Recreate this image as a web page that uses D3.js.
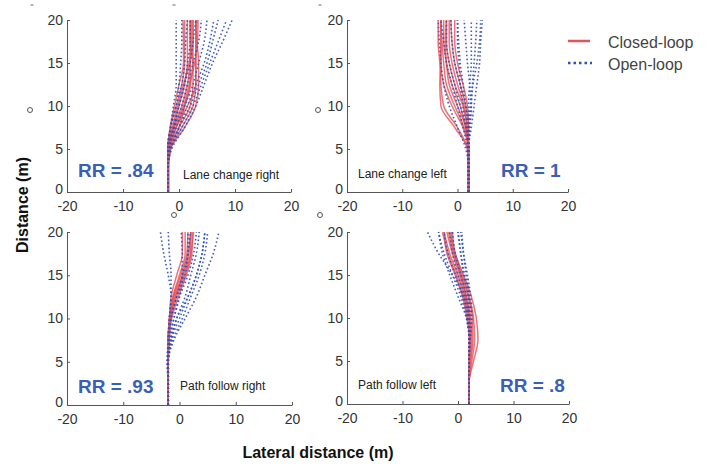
<!DOCTYPE html>
<html><head><meta charset="utf-8">
<script src="https://cdn.jsdelivr.net/npm/d3@7"></script>
<style>body{margin:0;background:#fff}svg{display:block}text{font-family:"Liberation Sans",Arial,sans-serif}</style>
</head><body><svg id="c" width="709" height="466"></svg>
<script>
// distance samples (m) for every trajectory
const dist = [0, 2.5, 5, 7.5, 10, 12.5, 15, 17.5, 20];
const xTicks = [-20, -10, 0, 10, 20];
const yTicks = [0, 5, 10, 15, 20];
const panelTitles = ["Lane change right", "Lane change left", "Path follow right", "Path follow left"];
const rrLabels = ["RR = .84", "RR = 1", "RR = .93", "RR = .8"];
const seriesNames = ["Closed-loop", "Open-loop"];

// lateral positions (m) at each distance sample
const lcrClosed = [
 [-2,-2,-2,-1.5,-0.5,0.5,1,1,1],
 [-2,-2,-2,-1,0,1,1.5,1.5,1.5],
 [-2,-2,-1.8,-0.5,1,2,2,2,2],
 [-2,-2,-1.8,0,2,2.5,2.5,2.5,2.5],
 [-2,-2,-1.5,0.5,2.5,3,3,3,3],
 [-2,-2,-1.5,1,3,3.5,3.5,3.2,3],
 [-2,-2,-1.9,-1,0.5,1.5,2,2.5,2.5],
 [-2,-2,-1.7,-0.5,1.5,3,3,3,3.2],
 [-1.8,-1.8,-1.6,0,1,2,2.5,2,2],
 [-2,-2,-2,-1.2,-0.2,0.8,1.8,2.2,2.2],
 [-2,-2,-1.9,-0.8,0.8,1.8,2.8,3.3,3.4],
 [-2,-2,-2,-1.6,-0.8,0,0.8,0.8,0.7]
];
const lcrOpen = [
 [-2,-2,-2,-1.5,-1,-0.5,-0.5,-0.5,-0.5],
 [-2,-2,-2,-1.5,-0.5,0,0.3,0.5,0.5],
 [-2,-2,-1.8,-1,0,1,2,2.5,3],
 [-2,-2,-1.8,-0.5,1,2.5,3.5,4.5,5],
 [-2,-2,-1.5,0,1.5,3,4.5,5.5,6.2],
 [-2,-2,-1.5,0,2,3.5,5,6,7],
 [-2,-2,-1.3,1,3,4.5,6,7.8,9.5],
 [-2,-2,-1.5,0.5,2.5,4,5.5,7,8.5],
 [-2,-2,-2,-1,0,1,1.5,2,2],
 [-2,-2,-1.8,-0.8,0.5,1.5,2.5,3.5,4],
 [-2,-2,-2,-1.5,-0.5,0.5,1,1.2,1.5]
];
const lclClosed = [
 [2,2,2,1.5,0,-1.5,-2,-2.5,-2.5],
 [2,2,2,1,-1,-2.5,-3,-3,-3],
 [2,2,1.8,0,-2.5,-3,-3.2,-3.5,-3.5],
 [2,2,1.8,-0.5,-3,-3.2,-3,-3,-3],
 [2,2,2,1.8,1,-0.5,-1.5,-2,-2],
 [2,2,2,2,1.5,0.5,-0.5,-1,-1.2],
 [2,2,2,1.5,0.5,-1,-2,-2.2,-2],
 [2,2,2,1.7,1.2,0,-1,-1.5,-1.5],
 [2,2,2,2,1.8,1,0,-0.5,-0.5],
 [2,2,1.9,1.2,-0.5,-2,-2.5,-2.8,-3]
];
const lclOpen = [
 [2,2,2,2.2,2.5,2.7,3,3.3,3.5],
 [2,2,2,2.5,3,3.5,4,4.2,4.5],
 [2,2,2,2,2,2.2,2.5,2.5,2.5],
 [2,2,2,1.5,1,0.5,0.3,0,0],
 [2,2,1.8,1,0,-1,-2,-2.5,-3],
 [2,2,1.5,0,-1.5,-2.5,-3,-3.3,-3.5],
 [2,2,2,1.8,1.5,0.5,-0.5,-1,-1.2],
 [2,2,2,1.8,1.5,1,0.5,0.2,0],
 [2,2,2,2.2,2.5,2.2,1.8,1.5,1.2],
 [2,2,2,1.5,0.5,-0.5,-1.5,-2,-2],
 [2,2,2,2,2.3,2.8,3.5,4,4.2]
];
const pfrClosed = [
 [-2,-2,-2,-2,-1.8,-1.2,0,1,1],
 [-2,-2,-2,-2,-1.7,-1,0.5,1.5,2],
 [-2,-2,-2,-2,-1.6,-0.8,0.8,2,2.5],
 [-2,-2,-2,-1.9,-1.5,-0.5,1,2,2],
 [-2,-2,-2,-2,-1.8,-1.5,-0.5,0.5,0.5],
 [-2,-2,-2,-1.8,-1.4,-0.2,1.2,2.2,2.3],
 [-2,-2,-2,-2,-1.7,-1.1,0.2,1.3,1.5],
 [-2,-2,-2,-1.9,-1.6,-0.7,0.6,1.7,2]
];
const pfrOpen = [
 [-2,-2,-2,-2,-1.8,-1.5,-2,-2.8,-3.4],
 [-2,-2,-2,-2,-1.8,-1.5,-1.5,-1.8,-2],
 [-2,-2,-2,-1.8,-1,0,0.5,0.5,0.3],
 [-2,-2,-2,-1.5,-0.5,1,2,3,3.5],
 [-2,-2,-2,-1.5,0,1.5,3,4,4.5],
 [-2,-2,-2,-1.2,0.5,2,3.5,4.5,5],
 [-2,-2,-2,-1,1,3,4.5,6,7],
 [-2,-2,-2.2,-1.5,-0.5,1.5,3,4,4.5],
 [-2,-2,-2,-1.8,-1.5,-0.5,1,1.5,2],
 [-2,-2,-2.2,-2,-1.5,-0.5,0.5,1.5,1.5],
 [-2,-2,-2,-1.6,-1,0,1.5,2.5,3]
];
const pflClosed = [
 [2,2,2,2.2,2,1.2,0,-1.5,-2.5],
 [2,2,2.2,2.5,2.3,1.5,0.3,-1,-2],
 [2,2,2.5,3,2.8,2,0.8,-0.5,-1.5],
 [2,2,2.8,3.6,3.3,2.4,1,-0.5,-1],
 [2,2,2,2,1.8,1,-0.3,-1.8,-2.8],
 [2,2,2.1,2.3,2.1,1.4,0.5,-0.8,-1.7],
 [2,2,2.3,2.7,2.6,1.8,0.6,-0.7,-1.2],
 [2,2,2,2.1,1.6,0.8,-0.5,-2,-2.5]
];
const pflOpen = [
 [2,2,2,2,2,2,1.5,1,0.7],
 [2,2,2,2,2,1.8,1,0.5,0],
 [2,2,2,2,1.8,1.2,0,-1,-1.5],
 [2,2,2,2,1.5,0.5,-1,-2.5,-3.5],
 [2,2,2,2,1.7,0.8,-0.5,-1.8,-2.5],
 [2,2,2,2,1.8,1,-1,-3.5,-5.5],
 [2,2,2,2.2,2.3,2,1.2,0.5,0],
 [2,2,2,2.1,2,1.5,0.5,-0.5,-1],
 [2,2,2,2,1.5,0,-1.5,-2.8,-3.5],
 [2,2,2,2.2,2.5,2.3,1.7,1,0.5]
];

const closedSets = [lcrClosed, lclClosed, pfrClosed, pflClosed];
const openSets = [lcrOpen, lclOpen, pfrOpen, pflOpen];

const RED = "#e4525a", BLUE = "#2f4fba", TXT = "#333", RRC = "#3a5fb8";
const svg = d3.select("#c");

const boxes = [
  {x0: 67, x1: 291, y0: 192, y1: 20, title: [183, 179], rr: [78, 177]},
  {x0: 347, x1: 568, y0: 192, y1: 20, title: [358, 178], rr: [501, 177]},
  {x0: 67, x1: 292, y0: 405, y1: 232, title: [180, 390], rr: [78, 393]},
  {x0: 347, x1: 569, y0: 404, y1: 232, title: [358, 389], rr: [500, 392]}
];

boxes.forEach((b, i) => {
  const x = d3.scaleLinear().domain([-20, 20]).range([b.x0, b.x1]);
  const y = d3.scaleLinear().domain([0, 20]).range([b.y0, b.y1]);
  const g = svg.append("g");
  const line = d3.line().x(d => x(d[0])).y(d => y(d[1])).curve(d3.curveMonotoneY);

  g.append("g").selectAll("path").data(closedSets[i]).join("path")
    .attr("d", s => line(s.map((v, k) => [v, dist[k]])))
    .attr("fill", "none").attr("stroke", RED).attr("stroke-width", 1.5).attr("opacity", 0.8);
  g.append("g").selectAll("path").data(openSets[i]).join("path")
    .attr("d", s => line(s.map((v, k) => [v, dist[k]])))
    .attr("fill", "none").attr("stroke", BLUE).attr("stroke-width", 1.6)
    .attr("stroke-dasharray", "1.6,2.4").attr("opacity", 0.9);

  const xa = g.append("g").attr("transform", `translate(0,${b.y0})`)
    .call(d3.axisBottom(x).tickValues(xTicks).tickFormat(d => String(d)).tickSize(-3).tickPadding(6).tickSizeOuter(0));
  const ya = g.append("g").attr("transform", `translate(${b.x0},0)`)
    .call(d3.axisLeft(y).tickValues(yTicks).tickFormat(d => String(d)).tickSize(-3).tickPadding(4).tickSizeOuter(0));
  [xa, ya].forEach(a => {
    a.select(".domain").attr("stroke", "#555");
    a.selectAll(".tick line").attr("stroke", "#555");
    a.selectAll("text").attr("fill", TXT).style("font-size", "14px");
  });
  xa.selectAll("text").attr("dy", "0.95em");
  ya.selectAll(".tick").filter(d => d === 0).select("text").attr("dy", "0.1em");

  g.append("text").attr("x", b.title[0]).attr("y", b.title[1])
    .attr("fill", "#222").style("font-size", "12px").text(panelTitles[i]);
  g.append("text").attr("x", b.rr[0]).attr("y", b.rr[1])
    .attr("fill", RRC).style("font-size", "19px").style("font-weight", "bold").text(rrLabels[i]);
});

// scanning artefacts: small circles and dashes
[[30, 110], [318, 110], [174, 215], [320, 215]].forEach(p =>
  svg.append("circle").attr("cx", p[0]).attr("cy", p[1]).attr("r", 2.5)
    .attr("fill", "none").attr("stroke", "#555").attr("stroke-width", 1));
[[32, 5], [174, 5], [320, 5]].forEach(p =>
  svg.append("line").attr("x1", p[0] - 1.5).attr("x2", p[0] + 1.5).attr("y1", p[1]).attr("y2", p[1])
    .attr("stroke", "#666").attr("stroke-width", 1));

// legend
const lg = svg.append("g");
lg.append("line").attr("x1", 568).attr("x2", 590).attr("y1", 41).attr("y2", 41)
  .attr("stroke", RED).attr("stroke-width", 2.5);
lg.append("line").attr("x1", 568).attr("x2", 592).attr("y1", 63).attr("y2", 63)
  .attr("stroke", BLUE).attr("stroke-width", 2.5).attr("stroke-dasharray", "2.5,3");
lg.append("text").attr("x", 608).attr("y", 48).attr("fill", "#444").style("font-size", "16px").text(seriesNames[0]);
lg.append("text").attr("x", 608).attr("y", 70).attr("fill", "#444").style("font-size", "16px").text(seriesNames[1]);

// axis titles
svg.append("text").attr("transform", "translate(28,205) rotate(-90)").attr("text-anchor", "middle")
  .attr("fill", "#111").style("font-size", "16px").style("font-weight", "bold").text("Distance (m)");
svg.append("text").attr("x", 318).attr("y", 458).attr("text-anchor", "middle")
  .attr("fill", "#111").style("font-size", "16px").style("font-weight", "bold").text("Lateral distance (m)");
</script></body></html>
